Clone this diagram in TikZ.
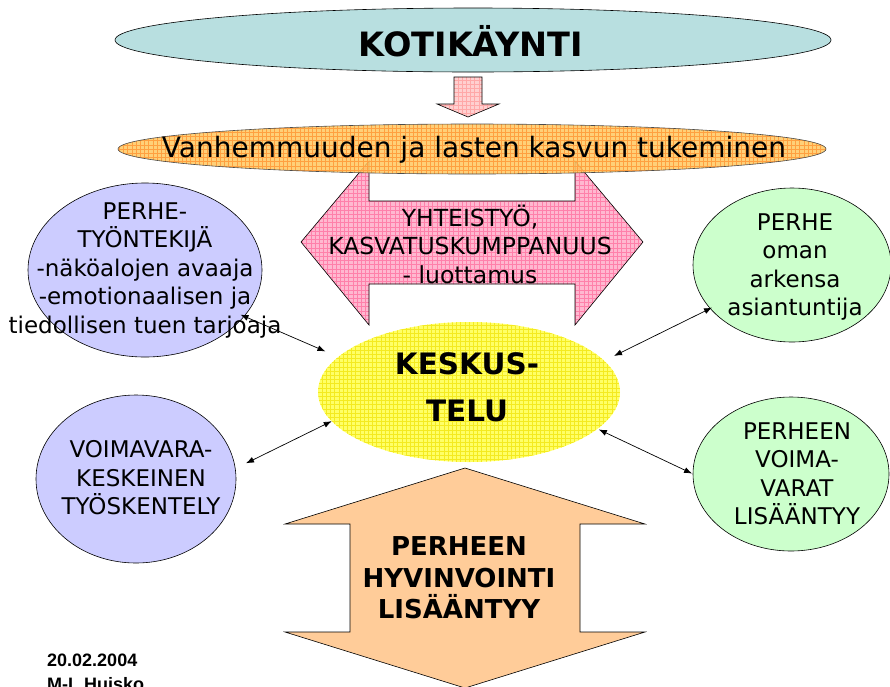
\documentclass[tikz,border=0pt]{standalone}
\usepackage{fontspec}
\usetikzlibrary{arrows.meta,shapes.geometric}
\newfontfamily\comic{DejaVu Sans}
\newfontfamily\arialf{Liberation Sans}
\definecolor{teal1}{HTML}{B8DFE0}
\definecolor{pinkbase}{HTML}{FFB8D0}
\definecolor{pinkgrid}{HTML}{FF80AA}
\definecolor{lpinkbase}{HTML}{FFD0D0}
\definecolor{lpinkgrid}{HTML}{FFA8A8}
\definecolor{orbase}{HTML}{FFC860}
\definecolor{orgrid}{HTML}{FFA040}
\definecolor{ylbase}{HTML}{FFFF66}
\definecolor{ylgrid}{HTML}{F4EA20}
\definecolor{lav}{HTML}{CCCCFF}
\definecolor{mint}{HTML}{CCFFCC}
\definecolor{peach}{HTML}{FFCC99}
\begin{document}
\begin{tikzpicture}[x=1pt,y=-1pt,
  gridded/.style={path picture={\draw[#1, line width=0.35pt] (path picture bounding box.south west) grid[step=4.2pt] (path picture bounding box.north east);}},
  ell/.style={ellipse, draw=black, line width=0.6pt, inner sep=0pt, outer sep=0pt},
  blockarrow/.style={draw=black, line width=0.6pt},
  tx/.style={font=\comic\fontsize{23}{28.5}\selectfont, align=center, inner sep=0pt},
  conn/.style={{Latex[length=8pt,width=6pt]}-{Latex[length=8pt,width=6pt]}, line width=0.7pt}]
\useasboundingbox (0,0) rectangle (890,686);
\clip (0,0) rectangle (890,686);
% top ellipse
\node[ell, fill=teal1, minimum width=716pt, minimum height=64pt] (top) at (473,40) {};
\node[font=\comic\bfseries\fontsize{33.5}{38}\selectfont, inner sep=0pt] (topT) at (471,41) {KOTIKÄYNTI};
% small down arrow
\path[blockarrow, fill=lpinkbase, gridded=lpinkgrid] (454,77) -- (482,77) -- (482,104) -- (499,104) -- (468,117) -- (437,104) -- (454,104) -- cycle;
% pink double arrow
\path[blockarrow, fill=pinkbase, gridded=pinkgrid] (301,242) -- (369,161) -- (369,201) -- (575,201) -- (575,161) -- (643,242) -- (575,325) -- (575,284) -- (369,284) -- (369,325) -- cycle;
% orange band
\node[ellipse, draw=black!70, line width=0.6pt, inner sep=0pt, outer sep=0pt, fill=orbase, fill opacity=0.85, gridded=orgrid, minimum width=708pt, minimum height=50pt] (band) at (472,149) {};
\node[font=\comic\fontsize{28}{32}\selectfont, inner sep=0pt] (bandT) at (474,150) {Vanhemmuuden ja lasten kasvun tukeminen};
\node[tx, font=\comic\fontsize{23.5}{28.5}\selectfont] (pinkT) at (470,244) {YHTEISTYÖ,\\KASVATUSKUMPPANUUS\\- luottamus};
% side ellipses
\node[ell, fill=lav, minimum width=234pt, minimum height=174pt] (pt) at (145,270) {};
\node[ell, fill=mint, minimum width=198pt, minimum height=154pt] (ph) at (792,265) {};
\node[ell, fill=lav, minimum width=200pt, minimum height=168pt] (vk) at (136,479) {};
\node[ell, fill=mint, minimum width=196pt, minimum height=154pt] (pv) at (791,474) {};
% centre ellipse
\node[ellipse, inner sep=0pt, outer sep=0pt, fill=ylbase, gridded=ylgrid, minimum width=302pt, minimum height=140pt] (kesk) at (469,392) {};
% bottom arrow
\path[blockarrow, fill=peach] (465,468) -- (645,524) -- (580,524) -- (580,632) -- (645,632) -- (465,688) -- (285,632) -- (350,632) -- (350,524) -- (285,524) -- cycle;
% texts
\node[tx] (ptT) at (145,270) {PERHE-\\TYÖNTEKIJÄ\\-näköalojen avaaja\\-emotionaalisen ja\\tiedollisen tuen tarjoaja};
\node[tx] (phT) at (795,267) {PERHE\\oman\\arkensa\\asiantuntija};
\node[tx] (vkT) at (141,478) {VOIMAVARA-\\KESKEINEN\\TYÖSKENTELY};
\node[tx] (pvT) at (797,474) {PERHEEN\\VOIMA-\\VARAT\\LISÄÄNTYY};
\node[tx, font=\comic\bfseries\fontsize{29.5}{47}\selectfont] (keskT) at (467,387) {KESKUS-\\TELU};
\node[tx, font=\comic\bfseries\fontsize{26}{31.5}\selectfont] (botT) at (459,578) {PERHEEN\\HYVINVOINTI\\LISÄÄNTYY};
% connectors
\draw[conn, shorten <=-4pt, shorten >=14pt] (pt.-25.3) -- (kesk.165.8);
\draw[conn, shorten <=12pt, shorten >=0pt] (vk.6.2) -- (kesk.192.4);
\draw[conn, shorten <=-2pt, shorten >=11pt] (ph.208.6) -- (kesk.13.6);
\draw[conn, shorten <=1pt, shorten >=1.5pt] (pv.180.6) -- (kesk.-16.4);
% footer
\node[font=\arialf\bfseries\fontsize{18}{22}\selectfont, anchor=base west, inner sep=0pt] (date) at (47,666) {20.02.2004};
\node[font=\arialf\bfseries\fontsize{18}{22}\selectfont, anchor=base west, inner sep=0pt] (auth) at (47,690) {M-L Huisko};
\end{tikzpicture}
\end{document}
